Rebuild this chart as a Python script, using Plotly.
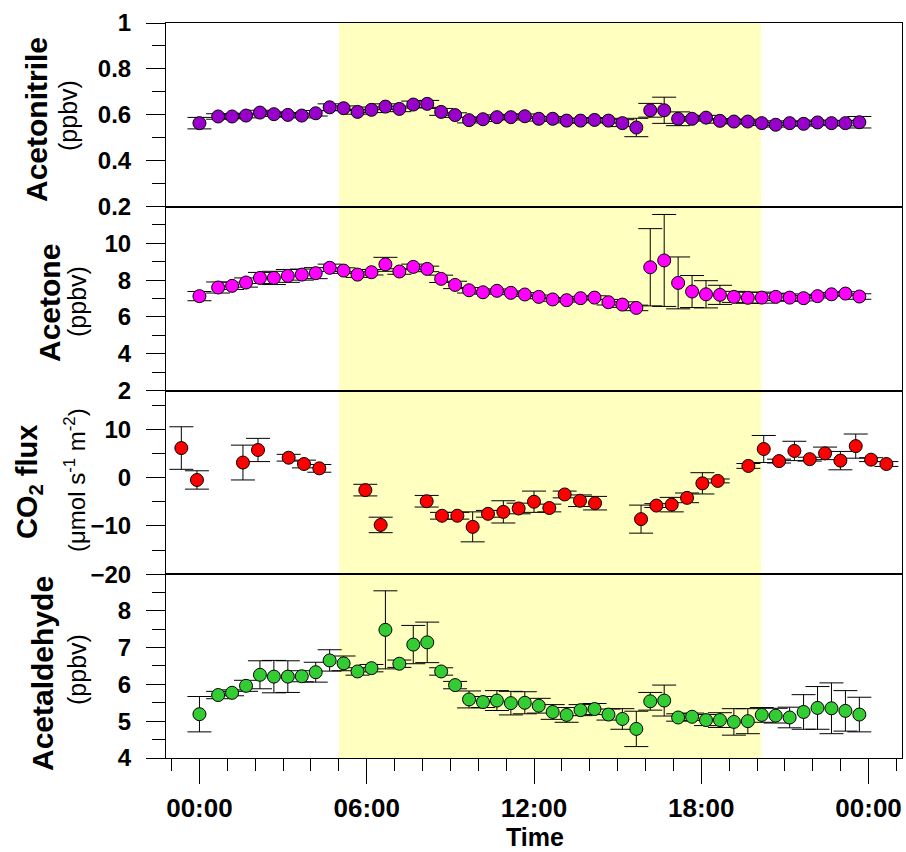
import plotly.graph_objects as go
from plotly.subplots import make_subplots

# ---------------- data ----------------
t_voc = [0.0, 0.67, 1.17, 1.67, 2.17, 2.67, 3.17, 3.67, 4.17, 4.67, 5.17, 5.67,
         6.17, 6.67, 7.17, 7.67, 8.17, 8.67, 9.17, 9.67, 10.17, 10.67, 11.17, 11.67,
         12.17, 12.67, 13.17, 13.67, 14.17, 14.67, 15.17, 15.67, 16.17, 16.67, 17.17, 17.67,
         18.17, 18.67, 19.17, 19.67, 20.17, 20.67, 21.17, 21.67, 22.17, 22.67, 23.17, 23.67]

acetonitrile = [0.564, 0.593, 0.593, 0.597, 0.610, 0.603, 0.600, 0.597, 0.607, 0.633, 0.629, 0.613,
                0.622, 0.636, 0.626, 0.645, 0.648, 0.613, 0.599, 0.577, 0.581, 0.590, 0.590, 0.594,
                0.583, 0.583, 0.575, 0.575, 0.578, 0.575, 0.564, 0.545, 0.620, 0.620, 0.583, 0.583,
                0.588, 0.574, 0.571, 0.571, 0.564, 0.557, 0.564, 0.561, 0.567, 0.564, 0.564, 0.568]
acetonitrile_err = [0.025, 0.012, 0.010, 0.010, 0.010, 0.010, 0.010, 0.010, 0.012, 0.015, 0.010, 0.010,
                    0.012, 0.012, 0.012, 0.015, 0.015, 0.015, 0.010, 0.012, 0.010, 0.010, 0.012, 0.010,
                    0.010, 0.010, 0.010, 0.010, 0.010, 0.010, 0.015, 0.040, 0.030, 0.057, 0.030, 0.010,
                    0.010, 0.010, 0.010, 0.010, 0.010, 0.010, 0.010, 0.010, 0.010, 0.010, 0.012, 0.025]

acetone = [7.13, 7.60, 7.69, 7.87, 8.12, 8.12, 8.23, 8.30, 8.38, 8.67, 8.52, 8.30,
           8.43, 8.86, 8.47, 8.72, 8.61, 8.07, 7.74, 7.45, 7.34, 7.42, 7.31, 7.22,
           7.09, 6.95, 6.91, 7.02, 7.05, 6.80, 6.67, 6.49, 8.70, 9.07, 7.85, 7.38,
           7.23, 7.20, 7.09, 7.04, 7.05, 7.09, 7.05, 7.02, 7.13, 7.23, 7.27, 7.11]
acetone_err = [0.25, 0.30, 0.20, 0.25, 0.30, 0.36, 0.35, 0.30, 0.30, 0.20, 0.15, 0.15,
               0.15, 0.38, 0.15, 0.15, 0.15, 0.20, 0.20, 0.15, 0.10, 0.10, 0.10, 0.10,
               0.10, 0.10, 0.10, 0.10, 0.10, 0.15, 0.15, 0.15, 2.10, 2.50, 1.41, 0.87,
               0.74, 0.52, 0.30, 0.30, 0.30, 0.20, 0.20, 0.15, 0.10, 0.10, 0.10, 0.15]

t_co2 = [-0.65, -0.09, 1.56, 2.10, 3.20, 3.75, 4.30, 5.95, 6.50, 8.15, 8.70, 9.25,
         9.80, 10.35, 10.90, 11.45, 12.00, 12.55, 13.10, 13.65, 14.19, 15.84, 16.39, 16.94,
         17.49, 18.04, 18.59, 19.69, 20.24, 20.79, 21.34, 21.89, 22.44, 22.99, 23.54, 24.09, 24.64]
co2 = [6.1, -0.5, 3.1, 5.7, 4.1, 2.8, 1.9, -2.6, -9.8, -4.9, -7.9, -7.9,
       -10.2, -7.5, -7.1, -6.4, -5.0, -6.3, -3.5, -4.8, -5.3, -8.6, -5.8, -5.6,
       -4.2, -1.2, -0.7, 2.4, 5.9, 3.4, 5.5, 3.8, 5.0, 3.5, 6.5, 3.7, 2.8]
co2_err = [4.4, 1.9, 3.6, 2.4, 0.7, 0.8, 0.8, 1.2, 1.6, 1.2, 0.7, 0.7,
           3.1, 0.7, 2.3, 1.1, 2.2, 0.8, 0.7, 1.2, 1.4, 2.9, 0.4, 1.5,
           1.0, 2.2, 0.4, 0.5, 2.8, 0.4, 2.0, 0.4, 1.3, 1.9, 2.5, 0.4, 0.5]

acetaldehyde = [5.19, 5.71, 5.77, 5.96, 6.26, 6.21, 6.21, 6.22, 6.33, 6.65, 6.57, 6.35,
                6.44, 7.48, 6.56, 7.08, 7.14, 6.35, 5.98, 5.59, 5.52, 5.56, 5.49, 5.50,
                5.42, 5.25, 5.17, 5.30, 5.33, 5.18, 5.06, 4.79, 5.54, 5.56, 5.10, 5.12,
                5.03, 5.03, 4.98, 5.00, 5.17, 5.15, 5.10, 5.25, 5.36, 5.35, 5.28, 5.18]
acetaldehyde_err = [0.48, 0.10, 0.08, 0.15, 0.38, 0.44, 0.43, 0.15, 0.27, 0.29, 0.20, 0.10,
                    0.10, 1.06, 0.10, 0.52, 0.55, 0.10, 0.10, 0.23, 0.15, 0.27, 0.32, 0.30,
                    0.20, 0.20, 0.20, 0.15, 0.15, 0.15, 0.28, 0.48, 0.24, 0.42, 0.10, 0.10,
                    0.15, 0.20, 0.36, 0.34, 0.20, 0.20, 0.28, 0.47, 0.58, 0.69, 0.55, 0.47]

x_tickvals = [0, 6, 12, 18, 24]
x_ticktext = ["00:00", "06:00", "12:00", "18:00", "00:00"]
day_start, day_end = 5.0, 20.15

# ---------------- figure ----------------
W, H = 906, 852
ML, MR, MT, MB = 166, 4, 23, 94
PW, PH = W - ML - MR, H - MT - MB
FONT = "Liberation Sans, Arial"

fig = make_subplots(rows=4, cols=1, shared_xaxes=True, vertical_spacing=0)

series = [
    (t_voc, acetonitrile, acetonitrile_err, "#9900CC"),
    (t_voc, acetone, acetone_err, "#FF00FF"),
    (t_co2, co2, co2_err, "#FF0000"),
    (t_voc, acetaldehyde, acetaldehyde_err, "#33CC33"),
]
for i, (tx, y, e, c) in enumerate(series, start=1):
    fig.add_trace(go.Scatter(
        x=tx, y=y, mode="markers",
        marker=dict(size=13, color=c, line=dict(color="black", width=1)),
        error_y=dict(type="data", array=e, visible=True, color="black",
                     thickness=1, width=12),
        showlegend=False, cliponaxis=False,
    ), row=i, col=1)

fig.add_shape(type="rect", xref="x", yref="paper", x0=day_start, x1=day_end,
              y0=0, y1=1, fillcolor="#FFFFC0", line=dict(width=0), layer="below")

tickfont_y = dict(family=FONT, size=24, color="black", weight="bold")
yconf = [
    dict(range=[0.2, 1.0], tick0=0.2, dtick=0.2, minor_d=0.1, minor_0=0.2),
    dict(range=[2, 11.99], tick0=2, dtick=2, minor_d=1, minor_0=2),
    dict(range=[-20, 18], tick0=0, dtick=10, minor_d=5, minor_0=0),
    dict(range=[4, 8.99], tick0=4, dtick=1, minor_d=0.5, minor_0=4),
]
for i, yc in enumerate(yconf, start=1):
    fig.update_yaxes(
        range=yc["range"], tickmode="linear", tick0=yc["tick0"], dtick=yc["dtick"],
        showline=True, linecolor="black", linewidth=1, mirror=True,
        ticks="outside", ticklen=19, tickwidth=1, tickcolor="black",
        minor=dict(ticks="outside", ticklen=13, tickwidth=1, tickcolor="black",
                   dtick=yc["minor_d"], tick0=yc["minor_0"], showgrid=False),
        showgrid=False, zeroline=False, tickfont=tickfont_y, ticklabelstandoff=10,
        row=i, col=1)
    fig.update_xaxes(
        range=[-1.2, 25.2], showline=True, linecolor="black", linewidth=1, mirror=True,
        showgrid=False, zeroline=False, ticks="", showticklabels=False, row=i, col=1)

fig.update_xaxes(
    ticks="outside", ticklen=25, tickwidth=1, tickcolor="black",
    tickmode="array", tickvals=x_tickvals, ticktext=x_ticktext, showticklabels=True,
    minor=dict(ticks="outside", ticklen=12, tickwidth=1, tickcolor="black",
               dtick=1, tick0=0, showgrid=False),
    tickfont=dict(family=FONT, size=26, color="black", weight="bold"),
    ticklabelstandoff=2,
    row=4, col=1)


def px_x(px):
    return (px - ML) / PW


def px_y(py):
    return (H - MB - py) / PH


titles = [
    ("<b>Acetonitrile</b>", 36, 120, 30),
    ("(ppbv)", 68, 116, 25),
    ("<b>Acetone</b>", 49, 303, 30),
    ("(ppbv)", 77, 302, 25),
    ("<b>CO<sub>2</sub> flux</b>", 29, 482, 29),
    ("(μmol s<sup>-1</sup> m<sup>-2</sup>)", 75, 480, 24),
    ("<b>Acetaldehyde</b>", 42, 674, 30),
    ("(ppbv)", 77, 670, 25),
]
annos = []
for txt, x, y, s in titles:
    annos.append(dict(text=txt, xref="paper", yref="paper", x=px_x(x), y=px_y(y),
                      xanchor="center", yanchor="middle", textangle=-90, showarrow=False,
                      font=dict(family=FONT, size=s, color="black")))
annos.append(dict(text="<b>Time</b>", xref="paper", yref="paper", x=px_x(535), y=px_y(853),
                  xanchor="center", yanchor="bottom", showarrow=False,
                  font=dict(family=FONT, size=25, color="black")))

fig.update_layout(
    width=W, height=H, margin=dict(l=ML, r=MR, t=MT, b=MB, pad=0),
    plot_bgcolor="white", paper_bgcolor="white", showlegend=False,
    annotations=annos,
)

fig.write_html("out.html")
